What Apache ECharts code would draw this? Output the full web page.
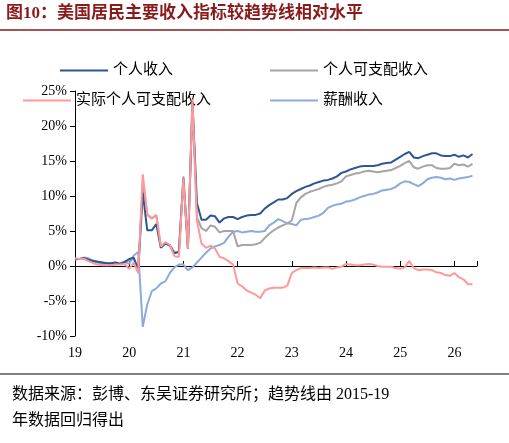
<!DOCTYPE html><html><head><meta charset="utf-8"><script src="https://cdn.jsdelivr.net/npm/echarts@6/dist/echarts.min.js"></script>
<style>body{margin:0;background:#fff}#c{width:509px;height:443px}</style></head><body><div id="c"></div><script>
const yearLabels=['19','20','21','22','23','24','25','26'];
const personalIncome=[1.0,1.0,1.1,0.9,0.7,0.6,0.5,0.4,0.4,0.5,0.3,0.6,
1.0,1.2,-0.5,10.5,5.1,5.1,6.0,2.6,3.2,2.9,1.8,2.0,
12.5,2.5,23.5,9.0,6.6,6.6,7.2,7.1,6.2,6.8,7.0,7.0,
6.7,7.0,7.2,7.3,7.3,7.5,8.2,8.7,9.1,9.5,9.5,9.7,
10.3,10.7,11.0,11.3,11.5,11.8,12.0,12.2,12.3,12.5,12.8,13.3,
13.5,13.8,14.0,14.2,14.3,14.3,14.3,14.4,14.6,14.7,14.8,15.2,
15.6,16.0,16.3,15.5,15.4,15.7,15.9,16.1,16.1,15.8,15.7,15.7,
15.9,15.6,15.8,15.5,16.0];
const disposableIncome=[1.0,1.0,1.1,0.9,0.7,0.6,0.5,0.4,0.4,0.5,0.3,0.6,
0.8,1.0,-0.8,12.0,7.3,6.8,7.2,2.8,3.2,3.0,2.0,2.0,
12.8,2.5,23.5,7.0,5.4,5.0,5.8,5.6,4.8,5.0,5.0,5.0,
2.8,3.0,3.0,3.0,3.1,3.3,4.0,4.6,5.1,5.5,5.8,6.1,
6.5,9.0,9.8,10.3,10.6,10.8,11.0,11.3,11.5,11.6,11.8,12.1,
12.8,13.0,13.2,13.3,13.5,13.6,13.5,13.4,13.5,13.6,13.7,14.0,
14.3,14.7,15.0,14.1,13.9,14.2,14.4,14.4,14.0,13.9,13.9,14.0,
14.6,14.4,14.5,14.2,14.6];
const realDisposableIncome=[1.1,1.0,1.0,0.7,0.4,0.2,0.1,0.1,0.1,0.2,0.2,0.3,
-0.4,0.5,-1.0,13.1,7.4,6.8,7.3,2.8,3.4,3.0,1.4,1.3,
12.5,2.5,23.8,6.5,3.2,2.6,2.9,2.5,1.3,1.1,0.7,0.2,
-2.5,-2.9,-3.5,-3.8,-4.1,-4.6,-3.5,-3.2,-3.1,-3.1,-3.1,-2.8,
-1.0,-0.6,-0.3,-0.3,-0.3,-0.2,-0.3,-0.2,-0.2,-0.4,-0.2,-0.1,
0.3,0.2,0.1,0.1,0.2,0.3,0.2,0.0,-0.1,-0.1,-0.1,-0.3,
-0.4,-0.2,0.7,-0.3,-0.6,-0.5,-0.5,-0.6,-0.9,-1.0,-1.3,-1.4,
-1.0,-1.6,-1.9,-2.6,-2.6];
const compensation=[0.9,1.0,1.2,1.1,0.8,0.5,0.3,0.1,0.2,0.3,0.4,0.6,
0.3,1.5,2.0,-8.7,-5.5,-3.6,-3.2,-2.5,-2.2,-1.0,-0.2,0.2,
0.2,-0.6,-0.2,0.5,1.2,1.9,2.5,2.8,3.0,3.3,4.2,4.9,
5.0,4.8,4.9,5.0,4.9,4.9,5.0,5.8,6.2,6.7,6.4,6.1,
6.0,5.8,6.6,6.7,6.8,7.0,7.2,7.6,8.3,8.6,8.8,8.9,
9.2,9.3,9.5,9.8,10.0,10.2,10.3,10.5,10.8,10.9,11.0,11.3,
11.8,12.1,12.0,11.7,11.4,11.8,12.4,12.6,12.7,12.6,12.4,12.5,
12.3,12.5,12.6,12.7,12.9];
const names=['个人收入','个人可支配收入','实际个人可支配收入','薪酬收入'];
const colors=['#2F5597','#A5A5A5','#FF9999','#8EA9DB'];
const arrs=[personalIncome,disposableIncome,realDisposableIncome,compensation];
const font='"Liberation Serif","Noto Sans CJK SC",serif';
const chart=echarts.init(document.getElementById('c'));
const leg=(data,top,left)=>({data,top,left,itemWidth:48,itemHeight:2,itemGap:20,icon:'rect',textStyle:{fontFamily:font,fontSize:15,color:'#000'}});
chart.setOption({
 animation:false,
 graphic:[
  {type:'text',left:6,top:5,style:{text:'图10：美国居民主要收入指标较趋势线相对水平',font:'bold 17px '+font,fill:'#8B1A1A'}},
  {type:'line',shape:{x1:0,y1:30,x2:509,y2:30},style:{stroke:'#8B1A1A',lineWidth:1.5}},
  {type:'line',shape:{x1:0,y1:374,x2:509,y2:374},style:{stroke:'#000',lineWidth:1}},
  {type:'text',left:12,top:382,style:{text:'数据来源：彭博、东吴证券研究所；趋势线由 2015-19\n年数据回归得出',font:'16px '+font,fill:'#000',lineHeight:26}}
 ],
 legend:[leg([names[0]],58,55),leg([names[1]],58,265),leg([names[2]],88,18),leg([names[3]],88,265)],
 grid:{left:75,right:32,top:91,bottom:107},
 xAxis:[
  {type:'value',min:0,max:89,interval:12,axisLine:{onZero:true,lineStyle:{color:'#000'}},axisTick:{inside:true,length:5,lineStyle:{color:'#000'}},axisLabel:{show:false},splitLine:{show:false}},
  {type:'value',min:0,max:89,interval:12,position:'bottom',axisLine:{show:false},axisTick:{show:false},splitLine:{show:false},
   axisLabel:{fontFamily:font,fontSize:14,color:'#000',margin:10,formatter:v=>yearLabels[v/12]||''}}
 ],
 yAxis:{type:'value',min:-10,max:25,interval:5,axisLine:{show:true,lineStyle:{color:'#000'}},axisTick:{show:true,length:5,lineStyle:{color:'#000'}},splitLine:{show:false},
  axisLabel:{fontFamily:font,fontSize:14,color:'#000',formatter:'{value}%'}},
 series:names.map((n,i)=>({name:n,type:'line',xAxisIndex:0,symbol:'none',data:arrs[i].map((v,j)=>[j,v]),lineStyle:{width:2,color:colors[i]},itemStyle:{color:colors[i]},z:[3,2,4,1][i]}))
});
</script></body></html>
